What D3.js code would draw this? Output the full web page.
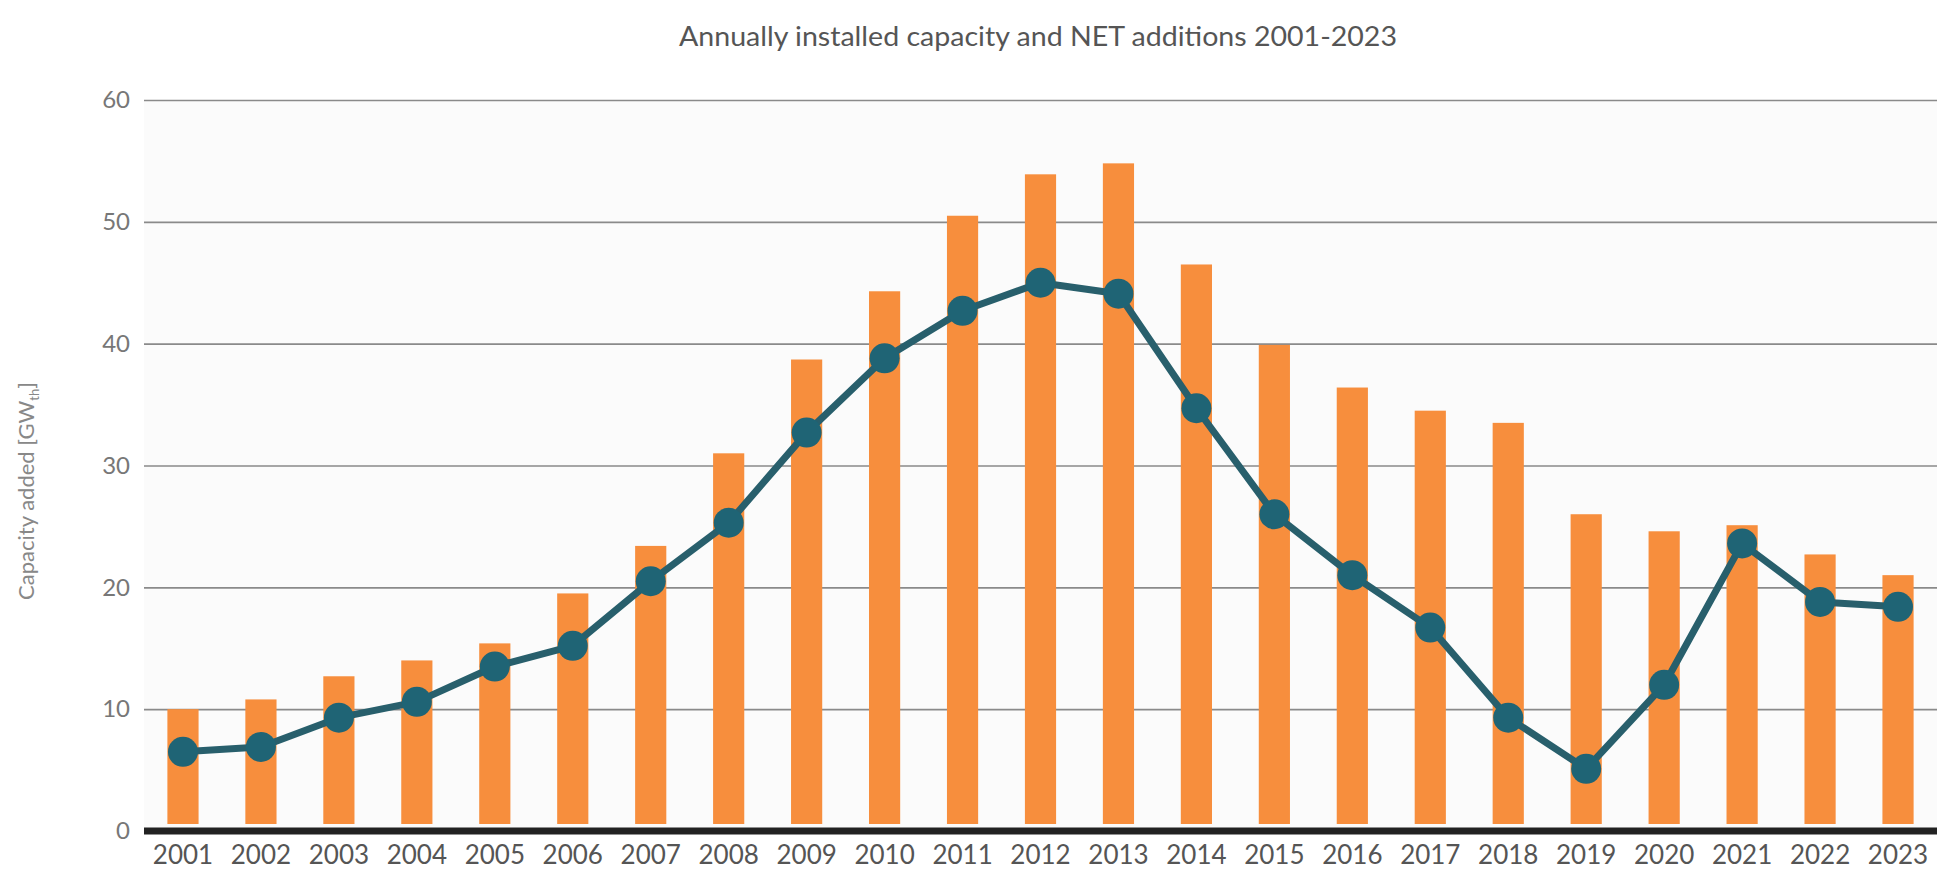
<!DOCTYPE html>
<html>
<head>
<meta charset="utf-8">
<script src="https://cdn.jsdelivr.net/npm/d3@7"></script>
<style>
  html, body { margin: 0; padding: 0; background: #fff; }
  svg { display: block; font-family: Lato, "Open Sans", sans-serif; }
</style>
</head>
<body>
<div id="chart"></div>
<script>
// data
const years = ["2001","2002","2003","2004","2005","2006","2007","2008","2009","2010","2011","2012",
               "2013","2014","2015","2016","2017","2018","2019","2020","2021","2022","2023"];
const installed = [10.0, 10.8, 12.7, 14.0, 15.4, 19.5, 23.4, 31.0, 38.7, 44.3, 50.5, 53.9,
                   54.8, 46.5, 39.9, 36.4, 34.5, 33.5, 26.0, 24.6, 25.1, 22.7, 21.0];
const netAdditions = [6.5, 6.9, 9.3, 10.6, 13.5, 15.2, 20.5, 25.3, 32.7, 38.8, 42.7, 45.0,
                      44.1, 34.7, 26.0, 21.0, 16.7, 9.3, 5.1, 12.0, 23.6, 18.8, 18.4];
const yTicks = [0, 10, 20, 30, 40, 50, 60];

const width = 1943, height = 878;
const margin = { top: 100, right: 6, bottom: 47, left: 144 };

const svg = d3.select("#chart").append("svg")
  .attr("width", width)
  .attr("height", height);

const x = d3.scaleBand().domain(years)
  .range([margin.left, width - margin.right])
  .paddingInner(0.6).paddingOuter(0.3);
const y = d3.scaleLinear().domain([0, 60]).range([height - margin.bottom, margin.top]);

// plot background
svg.append("rect")
  .attr("x", margin.left).attr("y", margin.top)
  .attr("width", width - margin.left - margin.right)
  .attr("height", y(0) - margin.top)
  .attr("fill", "#fbfbfb");

// gridlines + y labels
const yAxis = svg.append("g")
  .attr("transform", `translate(${margin.left},0)`)
  .call(d3.axisLeft(y).tickValues(yTicks).tickSize(-(width - margin.left - margin.right)).tickPadding(14));
yAxis.select(".domain").remove();
yAxis.selectAll(".tick line").attr("stroke", "#8a8a8a").attr("stroke-width", 1.6)
  .filter(d => d === 0).remove();
yAxis.selectAll(".tick text")
  .attr("font-size", 24).attr("fill", "#777").attr("font-family", "Lato, sans-serif");

// bars
svg.append("g").selectAll("rect")
  .data(years)
  .enter().append("rect")
  .attr("x", (d, i) => x(d))
  .attr("y", (d, i) => y(installed[i]))
  .attr("width", x.bandwidth())
  .attr("height", (d, i) => y(0) - y(installed[i]) - 7)
  .attr("fill", "#f78e3d");

// baseline
svg.append("line")
  .attr("x1", margin.left).attr("x2", width - margin.right)
  .attr("y1", y(0)).attr("y2", y(0))
  .attr("stroke", "#222").attr("stroke-width", 7);

// net additions line
const cx = d => x(d) + x.bandwidth() / 2;
svg.append("path")
  .datum(years)
  .attr("fill", "none")
  .attr("stroke", "#285f6c")
  .attr("stroke-width", 7)
  .attr("stroke-linejoin", "round")
  .attr("d", d3.line().x(d => cx(d)).y((d, i) => y(netAdditions[i])));

svg.append("g").selectAll("circle")
  .data(years)
  .enter().append("circle")
  .attr("cx", d => cx(d))
  .attr("cy", (d, i) => y(netAdditions[i]))
  .attr("r", 15)
  .attr("fill", "#1f6475");

// x labels
const xAxis = svg.append("g")
  .attr("transform", `translate(0,${y(0)})`)
  .call(d3.axisBottom(x).tickSize(0).tickPadding(15));
xAxis.select(".domain").remove();
xAxis.selectAll(".tick text")
  .attr("font-size", 26).attr("fill", "#555").attr("font-family", "Lato, sans-serif");

// title
svg.append("text")
  .attr("x", 1038).attr("y", 46)
  .attr("text-anchor", "middle")
  .attr("font-size", 27)
  .attr("fill", "#555")
  .attr("textLength", 718)
  .attr("lengthAdjust", "spacingAndGlyphs")
  .text("Annually installed capacity and NET additions 2001-2023");

// y axis title
const yLabel = svg.append("text")
  .attr("transform", "translate(34,491) rotate(-90)")
  .attr("text-anchor", "middle")
  .attr("font-size", 22)
  .attr("fill", "#888");
yLabel.append("tspan").text("Capacity added [GW");
yLabel.append("tspan").attr("font-size", 13).attr("dy", 5).text("th");
yLabel.append("tspan").attr("dy", -5).text("]");
</script>
</body>
</html>
